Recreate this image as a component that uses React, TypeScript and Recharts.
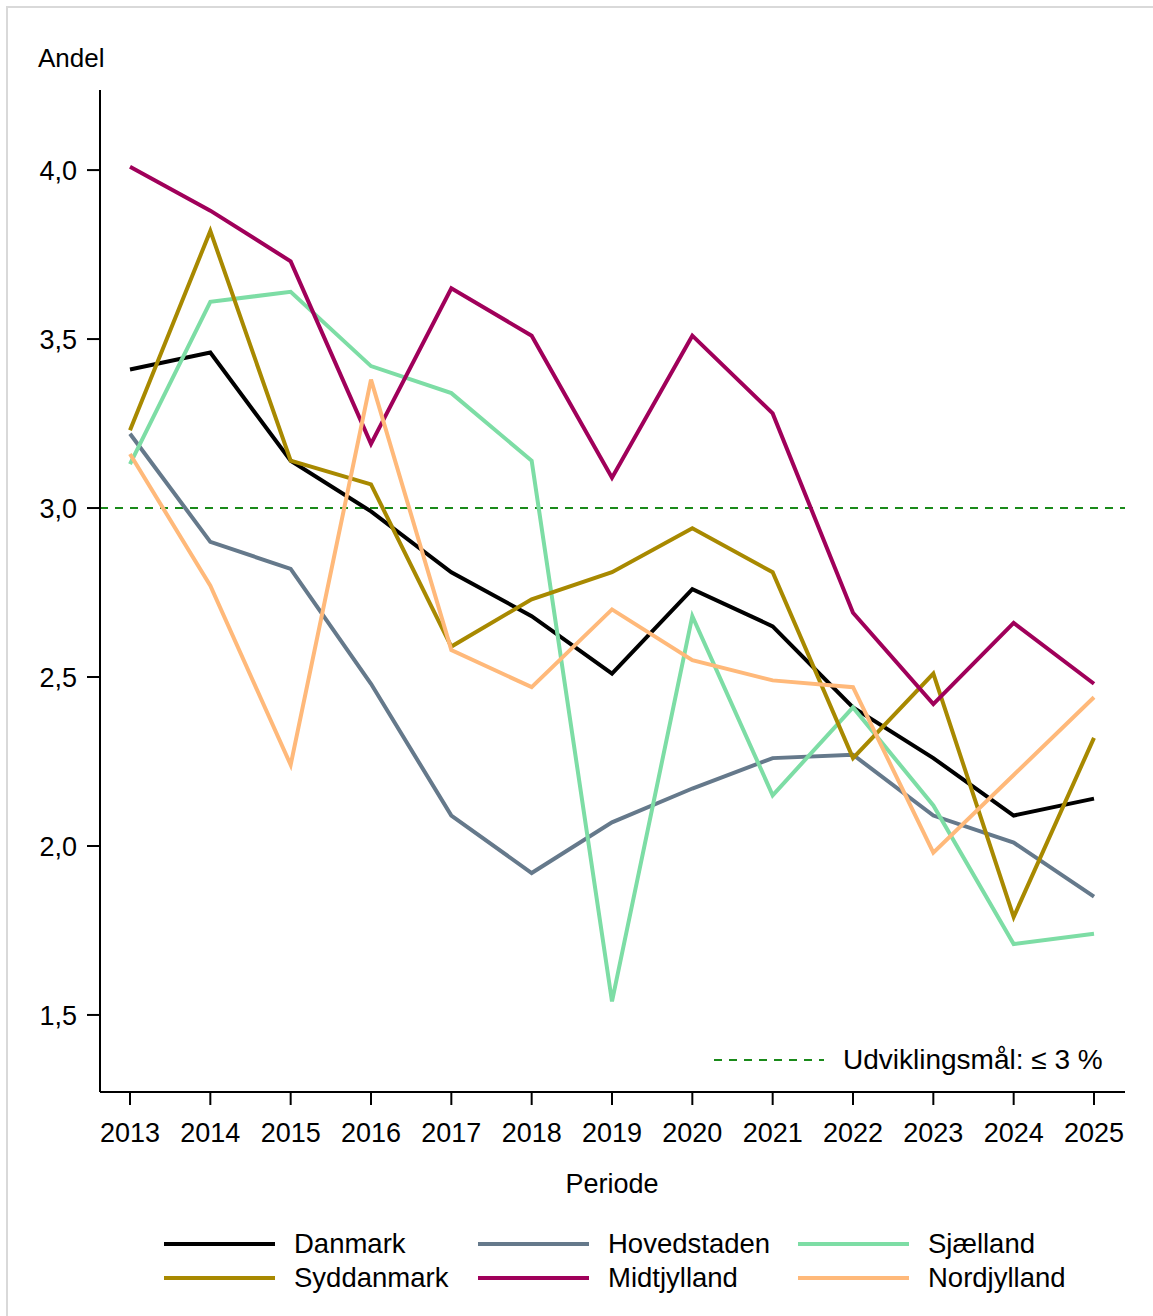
import { LineChart, Line, XAxis, YAxis, ReferenceLine } from 'recharts';

const years = [2013, 2014, 2015, 2016, 2017, 2018, 2019, 2020, 2021, 2022, 2023, 2024, 2025];

const danmark = [3.41, 3.46, 3.14, 2.99, 2.81, 2.68, 2.51, 2.76, 2.65, 2.41, 2.26, 2.09, 2.14];
const hovedstaden = [3.22, 2.9, 2.82, 2.48, 2.09, 1.92, 2.07, 2.17, 2.26, 2.27, 2.09, 2.01, 1.85];
const sjaelland = [3.13, 3.61, 3.64, 3.42, 3.34, 3.14, 1.54, 2.68, 2.15, 2.41, 2.12, 1.71, 1.74];
const syddanmark = [3.23, 3.82, 3.14, 3.07, 2.59, 2.73, 2.81, 2.94, 2.81, 2.26, 2.51, 1.79, 2.32];
const midtjylland = [4.01, 3.88, 3.73, 3.19, 3.65, 3.51, 3.09, 3.51, 3.28, 2.69, 2.42, 2.66, 2.48];
const nordjylland = [3.16, 2.77, 2.24, 3.38, 2.58, 2.47, 2.7, 2.55, 2.49, 2.47, 1.98, 2.21, 2.44];

const yTicks = [1.5, 2.0, 2.5, 3.0, 3.5, 4.0];
const target = 3.0;

// rækkefølge = legendens rækkefølge (række for række)
const series = [
  { key: 'danmark', name: 'Danmark', color: '#000000', values: danmark },
  { key: 'hovedstaden', name: 'Hovedstaden', color: '#65798b', values: hovedstaden },
  { key: 'sjaelland', name: 'Sjælland', color: '#7ddda5', values: sjaelland },
  { key: 'syddanmark', name: 'Syddanmark', color: '#a88900', values: syddanmark },
  { key: 'midtjylland', name: 'Midtjylland', color: '#a0005a', values: midtjylland },
  { key: 'nordjylland', name: 'Nordjylland', color: '#ffb97a', values: nordjylland },
];

const data = years.map((year, i) => {
  const row: Record<string, number> = { year };
  series.forEach((s) => {
    row[s.key] = s.values[i];
  });
  return row;
});

const font = '"Liberation Sans", Arial, sans-serif';
const tickStyle = { fill: '#000', fontSize: 27, fontFamily: font };

export default function App() {
  return (
    <div style={{ position: 'absolute', left: 0, top: 0, width: 1153, height: 1316, background: '#fff', fontFamily: font }}>
      {/* tynd grå ramme top og venstre */}
      <div style={{ position: 'absolute', left: 6, top: 6, right: 0, bottom: 0, borderTop: '2px solid #d9d9d9', borderLeft: '2px solid #d9d9d9' }} />
      <LineChart
        width={1153}
        height={1316}
        data={data}
        margin={{ top: 90, right: 28, left: 20, bottom: 164 }}
      >
        <XAxis
          dataKey="year"
          padding={{ left: 30, right: 31 }}
          axisLine={{ stroke: '#000', strokeWidth: 2 }}
          tickLine={{ stroke: '#000', strokeWidth: 2 }}
          tickSize={13}
          tickMargin={18}
          tick={tickStyle}
          height={60}
          interval={0}
        />
        <YAxis
          type="number"
          domain={[1.272, 4.237]}
          allowDataOverflow
          ticks={yTicks}
          tickFormatter={(v: number) => v.toFixed(1).replace('.', ',')}
          axisLine={{ stroke: '#000', strokeWidth: 2 }}
          tickLine={{ stroke: '#000', strokeWidth: 2 }}
          tickSize={13}
          tickMargin={10}
          tick={tickStyle}
          width={80}
        />
        <ReferenceLine y={target} stroke="#1a8a1a" strokeWidth={2} strokeDasharray="8 7" />
        {series.map((s) => (
          <Line
            key={s.key}
            dataKey={s.key}
            name={s.name}
            stroke={s.color}
            strokeWidth={4}
            dot={false}
            activeDot={false}
            type="linear"
            isAnimationActive={false}
          />
        ))}
      </LineChart>

      <div style={{ position: 'absolute', left: 38, top: 43, fontSize: 26, color: '#000' }}>Andel</div>
      <div style={{ position: 'absolute', left: 0, width: 1224, top: 1169, textAlign: 'center', fontSize: 27, color: '#000' }}>Periode</div>

      {/* målsætning */}
      <div style={{ position: 'absolute', left: 714, top: 1044, display: 'flex', alignItems: 'center', fontSize: 28, color: '#000' }}>
        <svg width={110} height={4} style={{ marginRight: 19 }}>
          <line x1={0} y1={2} x2={110} y2={2} stroke="#1a8a1a" strokeWidth={2} strokeDasharray="8 7" />
        </svg>
        <span>Udviklingsmål: ≤ 3 %</span>
      </div>

      {/* legend */}
      <div style={{ position: 'absolute', left: 164, top: 1228, display: 'grid', gridTemplateColumns: '314px 320px 300px', rowGap: 2 }}>
        {series.map((s) => (
          <div key={s.key} style={{ display: 'flex', alignItems: 'center', height: 32, fontSize: 27.5, color: '#000' }}>
            <div style={{ width: 111, height: 4, background: s.color, marginRight: 19 }} />
            <span>{s.name}</span>
          </div>
        ))}
      </div>
    </div>
  );
}
